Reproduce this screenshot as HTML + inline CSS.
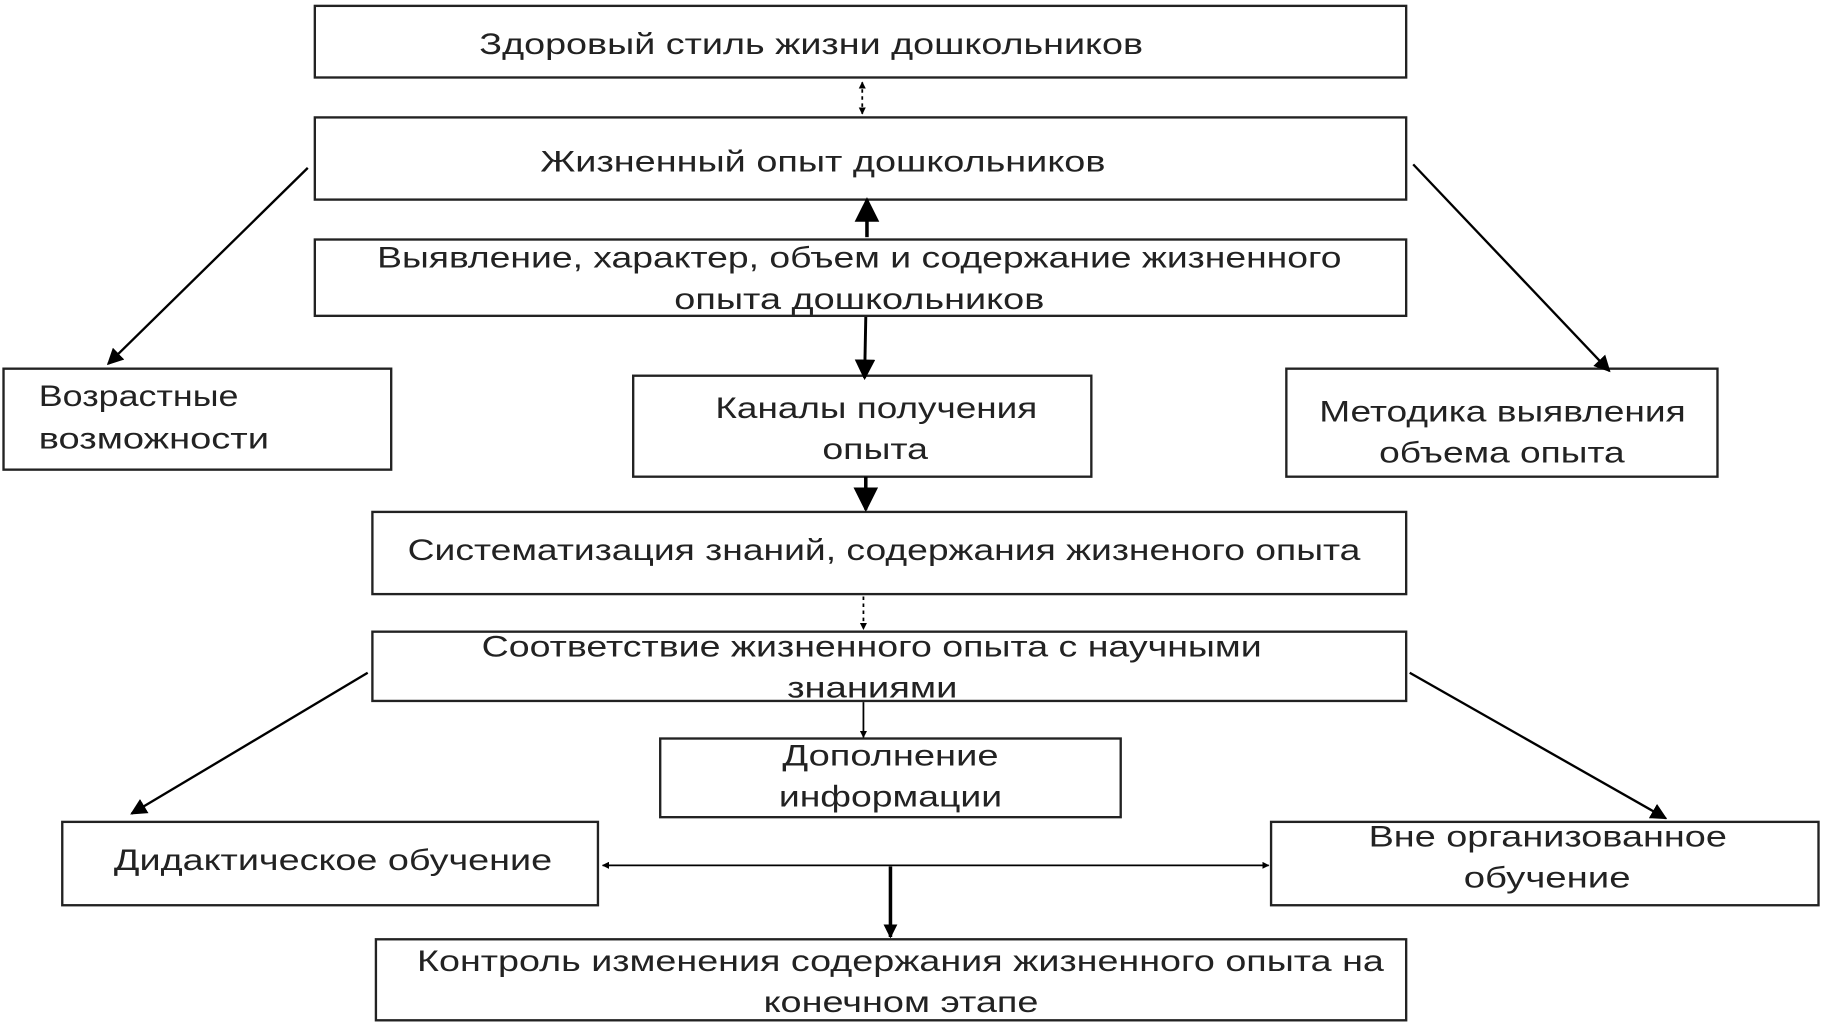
<!DOCTYPE html>
<html><head><meta charset="utf-8"><style>
html,body{margin:0;padding:0;background:#fff;}
svg{display:block}
text{font-family:"Liberation Sans",sans-serif;font-size:25px;fill:#222;}
</style></head><body>
<svg width="1842" height="1025" viewBox="0 0 1568 873" preserveAspectRatio="none">
<defs>
<marker id="a" viewBox="0 0 10 10" refX="9" refY="5" markerWidth="7" markerHeight="7" orient="auto-start-reverse"><path d="M0,0L10,5L0,10z" fill="#000"/></marker>
<marker id="s" viewBox="0 0 10 10" refX="9" refY="5" markerWidth="4" markerHeight="4" orient="auto-start-reverse"><path d="M0,0L10,5L0,10z" fill="#000"/></marker>
</defs>
<g fill="none" stroke="#222" stroke-width="2">
<rect x="268" y="5" width="929" height="61"/>
<rect x="268" y="100" width="929" height="70"/>
<rect x="268" y="204" width="929" height="65"/>
<rect x="3" y="314" width="330" height="86"/>
<rect x="539" y="320" width="390" height="86"/>
<rect x="1095" y="314" width="367" height="92"/>
<rect x="317" y="436" width="880" height="70"/>
<rect x="317" y="538" width="880" height="59"/>
<rect x="562" y="629" width="392" height="67"/>
<rect x="53" y="700" width="456" height="71"/>
<rect x="1082" y="700" width="466" height="71"/>
<rect x="320" y="800" width="877" height="69"/>
</g>
<g stroke="#000" stroke-width="2" fill="none">
<line x1="734" y1="70" x2="734" y2="97" stroke-dasharray="3,3" stroke-width="1.5" marker-start="url(#s)" marker-end="url(#s)"/>
<line x1="738" y1="202" x2="738" y2="170" stroke-width="3" marker-end="url(#a)"/>
<line x1="737" y1="270" x2="736" y2="322" stroke-width="2.5" marker-end="url(#a)"/>
<line x1="737" y1="406" x2="737" y2="434" stroke-width="3" marker-end="url(#a)"/>
<line x1="735" y1="508" x2="735" y2="536" stroke-dasharray="3,3" stroke-width="1.5" marker-end="url(#s)"/>
<line x1="735" y1="598" x2="735" y2="628" stroke-width="1.5" marker-end="url(#s)"/>
<line x1="262" y1="143" x2="92" y2="310" marker-end="url(#a)"/>
<line x1="1203" y1="140" x2="1370" y2="316" marker-end="url(#a)"/>
<line x1="313" y1="573" x2="112" y2="693" marker-end="url(#a)"/>
<line x1="1200" y1="573" x2="1418" y2="697" marker-end="url(#a)"/>
<line x1="513" y1="737" x2="1080" y2="737" stroke-width="1.5" marker-start="url(#s)" marker-end="url(#s)"/>
<line x1="758" y1="738" x2="758" y2="798" stroke-width="3" marker-end="url(#s)"/>
</g>
<g text-anchor="start">
<text x="408" y="46" textLength="565" lengthAdjust="spacingAndGlyphs">Здоровый стиль жизни дошкольников</text>
<text x="460" y="146" textLength="481" lengthAdjust="spacingAndGlyphs">Жизненный опыт дошкольников</text>
<text x="321" y="228" textLength="821" lengthAdjust="spacingAndGlyphs">Выявление, характер, объем и содержание жизненного</text>
<text x="574" y="263" textLength="315" lengthAdjust="spacingAndGlyphs">опыта дошкольников</text>
<text x="33" y="346" textLength="170" lengthAdjust="spacingAndGlyphs">Возрастные</text>
<text x="33" y="382" textLength="196" lengthAdjust="spacingAndGlyphs">возможности</text>
<text x="609" y="356" textLength="274" lengthAdjust="spacingAndGlyphs">Каналы получения</text>
<text x="700" y="391" textLength="90" lengthAdjust="spacingAndGlyphs">опыта</text>
<text x="1123" y="359" textLength="312" lengthAdjust="spacingAndGlyphs">Методика выявления</text>
<text x="1174" y="394" textLength="209" lengthAdjust="spacingAndGlyphs">объема опыта</text>
<text x="347" y="477" textLength="811" lengthAdjust="spacingAndGlyphs">Систематизация знаний, содержания жизненого опыта</text>
<text x="410" y="559" textLength="664" lengthAdjust="spacingAndGlyphs">Соответствие жизненного опыта с научными</text>
<text x="670" y="594" textLength="145" lengthAdjust="spacingAndGlyphs">знаниями</text>
<text x="666" y="652" textLength="184" lengthAdjust="spacingAndGlyphs">Дополнение</text>
<text x="663" y="687" textLength="190" lengthAdjust="spacingAndGlyphs">информации</text>
<text x="97" y="741" textLength="373" lengthAdjust="spacingAndGlyphs">Дидактическое обучение</text>
<text x="1165" y="721" textLength="305" lengthAdjust="spacingAndGlyphs">Вне организованное</text>
<text x="1246" y="756" textLength="142" lengthAdjust="spacingAndGlyphs">обучение</text>
<text x="355" y="827" textLength="823" lengthAdjust="spacingAndGlyphs">Контроль изменения содержания жизненного опыта на</text>
<text x="650" y="862" textLength="234" lengthAdjust="spacingAndGlyphs">конечном этапе</text>
</g>
</svg>
</body></html>
